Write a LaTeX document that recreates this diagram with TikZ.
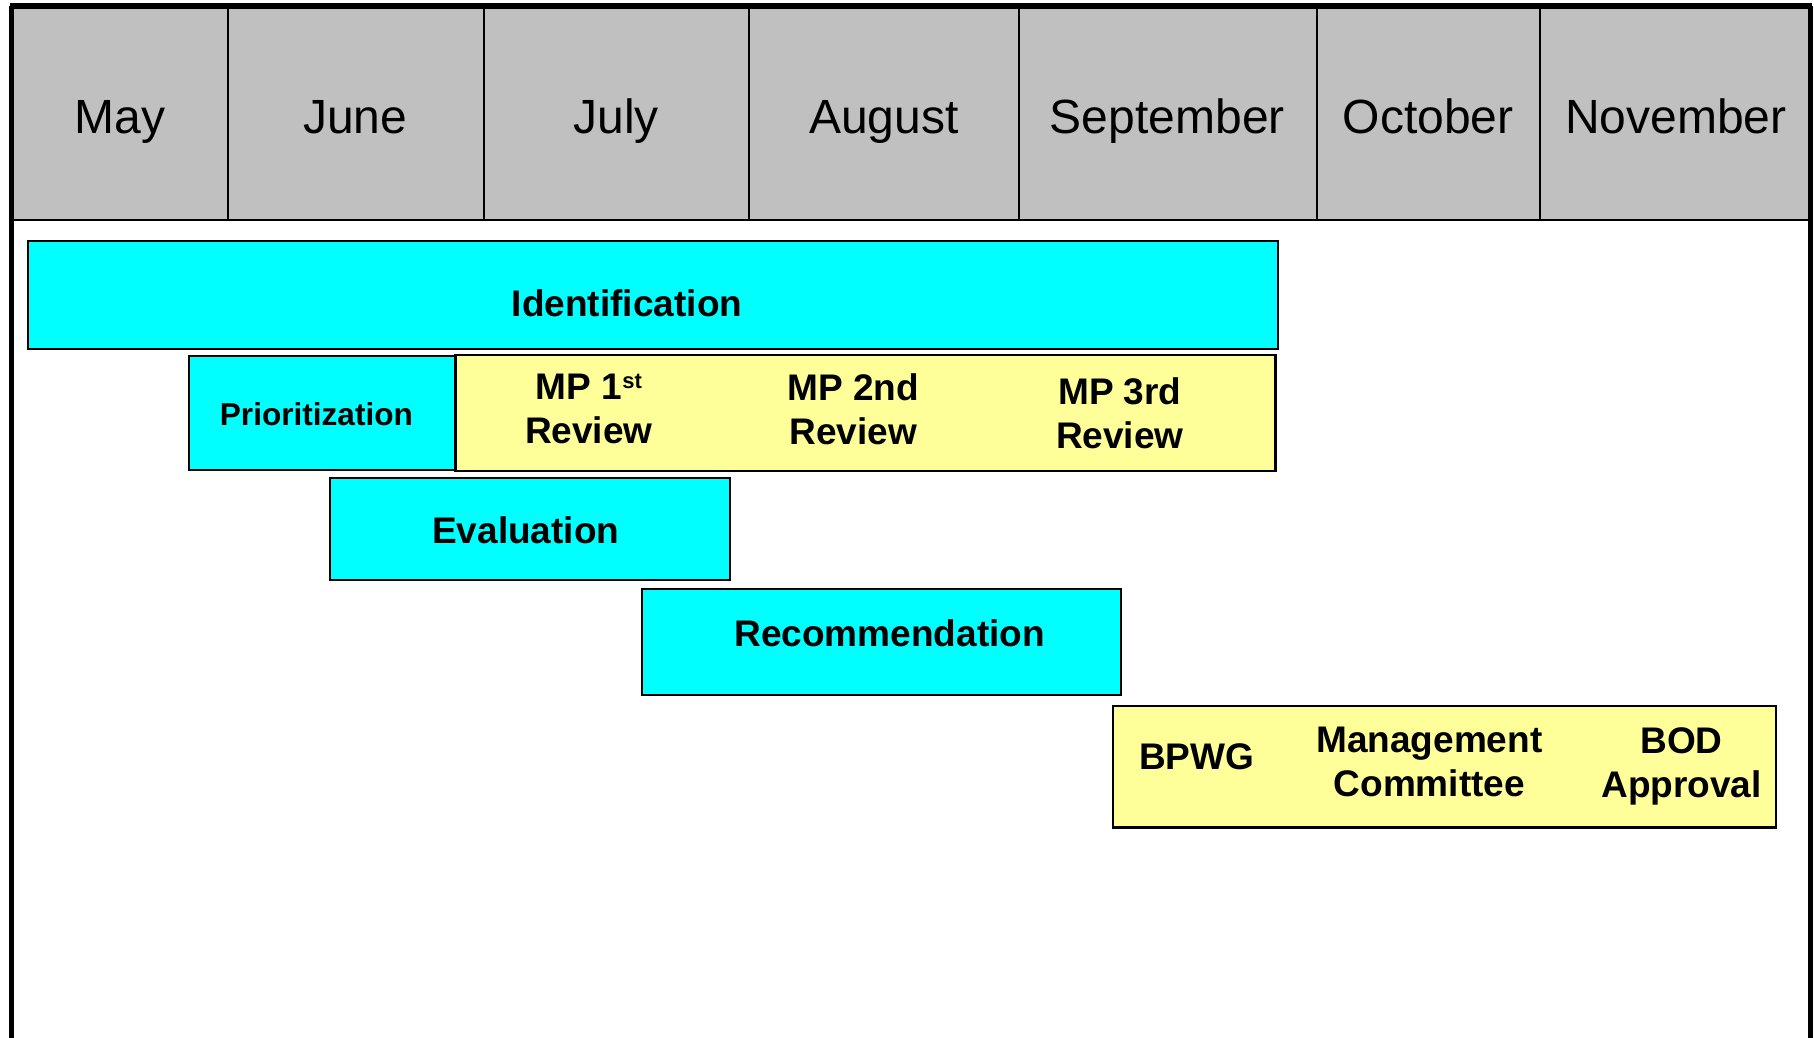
\documentclass[tikz,border=0pt]{standalone}
\usepackage{fontspec}
\setmainfont{Liberation Sans}
\usetikzlibrary{fit}
\definecolor{hdrgray}{RGB}{192,192,192}
\definecolor{boxcyan}{RGB}{0,255,255}
\definecolor{boxyellow}{RGB}{255,255,153}
\begin{document}
\begin{tikzpicture}[x=0.5pt,y=-0.5pt,
  cyanbox/.style={draw=black, line width=0.9pt, fill=boxcyan, inner sep=0pt, outer sep=0pt},
  yelbox/.style={draw=black, line width=1.1pt, fill=boxyellow, inner sep=0pt, outer sep=0pt},
  month/.style={font=\fontsize{20.75}{24}\selectfont, anchor=base, inner sep=0pt},
  lbl/.style={font=\bfseries\fontsize{16}{19}\selectfont, anchor=base, align=center, inner sep=0pt},
  smalllbl/.style={font=\bfseries\fontsize{13.65}{16}\selectfont, anchor=base, align=center, inner sep=0pt},
  divider/.style={line width=0.85pt},
  framel/.style={line width=2.1pt}
]
\useasboundingbox (0,0) rectangle (1568,897);
\fill[white] (0,0) rectangle (1568,897);
% header band
\fill[hdrgray] (10,5) rectangle (1565,190);
\foreach \x in {197,418,647,881,1138,1331} \draw[divider] (\x,5) -- (\x,190);
\draw[divider] (10,190) -- (1565,190);
% frame
\draw[framel] (10,897) -- (10,5);
\draw[framel] (1565,897) -- (1565,5);
\draw[line width=2.6pt] (8.95,5.5) -- (1566.05,5.5);
% months
\node[month] (may) at (103.5,115) {May};
\node[month] (jun) at (307,115) {June};
\node[month] (jul) at (532.5,115) {July};
\node[month] (aug) at (764,115) {August};
\node[month] (sep) at (1009,115) {September};
\node[month] (oct) at (1234.5,115) {October};
\node[month] (nov) at (1448.5,115) {November};
% boxes
\node[cyanbox, fit={(24,208) (1105,302)}] (ident) {};
\node[cyanbox, fit={(163.6,307.4) (393.8,406)}] (prio) {};
\node[yelbox, fit={(393.8,307) (1102.4,407)}] (mpbox) {};
\node[cyanbox, fit={(285.3,413.2) (631,501.3)}] (eval) {};
\node[cyanbox, fit={(554.8,508.8) (968.8,600.7)}] (recom) {};
\node[yelbox, fit={(962,610.2) (1535.2,715.4)}] (bodbox) {};
% labels
\node[lbl] (identT) at (542,274) {Identification};
\node[smalllbl] (prioT) at (273.5,368) {Prioritization};
\node[lbl] (mp1) at (509,383.5) {MP 1\raisebox{5pt}{\fontsize{9.5}{11}\selectfont st}\\Review};
\node[lbl] (mp2) at (737.5,384) {MP 2nd\\Review};
\node[lbl] (mp3) at (968,387.5) {MP 3rd\\Review};
\node[lbl] (evalT) at (454.5,470) {Evaluation};
\node[lbl] (recomT) at (769,559) {Recommendation};
\node[lbl] (bpwg) at (1034.5,665.5) {BPWG};
\node[lbl] (mgmt) at (1235.5,688.6) {Management\\Committee};
\node[lbl] (bod) at (1453.5,689.2) {BOD\\Approval};
\end{tikzpicture}
\end{document}
